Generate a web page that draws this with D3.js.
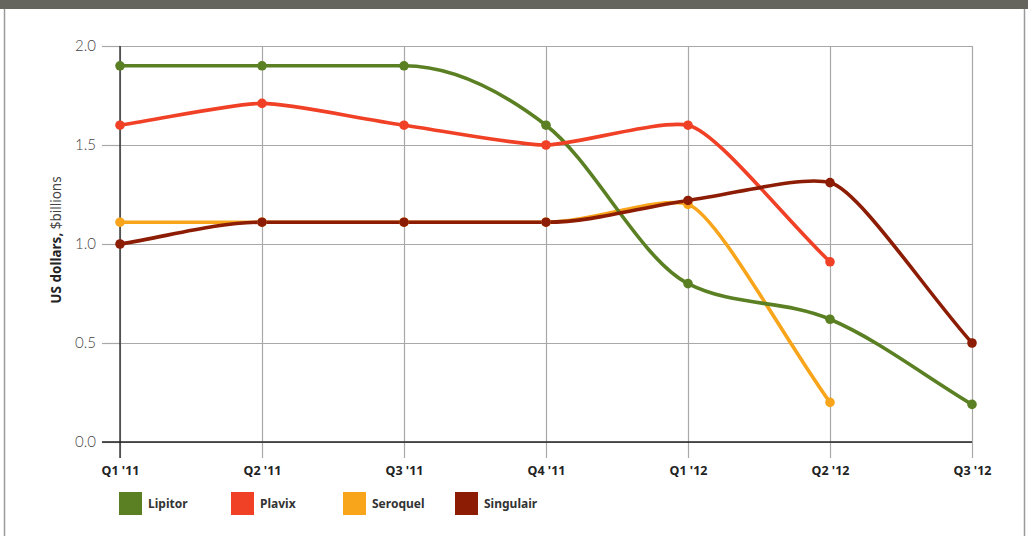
<!DOCTYPE html>
<html><head><meta charset="utf-8">
<script src="https://cdn.jsdelivr.net/npm/d3@7"></script>
<style>
html,body{margin:0;padding:0;background:#fff;}
svg{display:block;}
</style></head>
<body><svg id="c" width="1028" height="536"></svg>
<script>
const quarters = ["Q1 '11","Q2 '11","Q3 '11","Q4 '11","Q1 '12","Q2 '12","Q3 '12"];
const yTicks = [0, 0.5, 1.0, 1.5, 2.0];
const seriesNames = ["Lipitor","Plavix","Seroquel","Singulair"];
const seriesColors = ["#5a8023","#f04127","#f8a51c","#8c1c03"];
const lipitor   = [1.9, 1.9, 1.9, 1.6, 0.8, 0.62, 0.19];
const plavix    = [1.6, 1.71, 1.6, 1.5, 1.6, 0.91, null];
const seroquel  = [1.11, 1.11, 1.11, 1.11, 1.2, 0.2, null];
const singulair = [1.0, 1.11, 1.11, 1.11, 1.22, 1.31, 0.5];
const seriesValues = [lipitor, plavix, seroquel, singulair];

// Smooth cubic curve factory for d3.line (flat at plateaus, tight bends at turning points)
function SmoothCurve(context){ this._context = context; }
SmoothCurve.prototype = {
  areaStart(){ this._line = 0; }, areaEnd(){ this._line = NaN; },
  lineStart(){ this._pts = []; },
  point(x, y){ this._pts.push([+x, +y]); },
  lineEnd(){
    const p = this._pts, n = p.length, ctx = this._context;
    if (!n) return;
    ctx.moveTo(p[0][0], p[0][1]);
    if (n === 1) return;
    const s = [], h = [];
    for (let i = 0; i < n - 1; i++) { h.push(p[i+1][0] - p[i][0]); s.push((p[i+1][1] - p[i][1]) / h[i]); }
    const m = new Array(n), k = new Array(n).fill(1/3);
    m[0] = s[0]; m[n-1] = s[n-2];
    for (let i = 1; i < n - 1; i++) {
      const s0 = s[i-1], s1 = s[i], h0 = h[i-1], h1 = h[i];
      const pp = (s0*h1 + s1*h0) / (h0 + h1);
      if (Math.abs(s0) < 1e-9 || Math.abs(s1) < 1e-9) m[i] = 0;
      else if (Math.sign(s0) === Math.sign(s1)) m[i] = Math.sign(s0) * Math.min(2*Math.abs(s0), 2*Math.abs(s1), Math.abs(pp));
      else { m[i] = 0.5 * pp; k[i] = 1/5; }
    }
    for (let i = 0; i < n - 1; i++) {
      const d0 = h[i] * k[i], d1 = h[i] * k[i+1];
      ctx.bezierCurveTo(p[i][0] + d0, p[i][1] + m[i]*d0, p[i+1][0] - d1, p[i+1][1] - m[i+1]*d1, p[i+1][0], p[i+1][1]);
    }
  }
};
const curveSmooth = ctx => new SmoothCurve(ctx);

const svg = d3.select("#c");
// frame
svg.append("rect").attr("x",0).attr("y",0).attr("width",1028).attr("height",9).attr("fill","#65655d");
svg.append("line").attr("x1",4.5).attr("x2",4.5).attr("y1",9).attr("y2",536).attr("stroke","#9a9a9a").attr("stroke-width",1.5);
svg.append("line").attr("x1",1024.5).attr("x2",1024.5).attr("y1",9).attr("y2",536).attr("stroke","#9a9a9a").attr("stroke-width",1.5);

const x = d3.scalePoint().domain(quarters).range([120, 972]);
const y = d3.scaleLinear().domain([0, 2]).range([442, 46]);

const g = svg.append("g");
// horizontal grid
const yAxis = d3.axisLeft(y).tickValues(yTicks).tickFormat(d3.format(".1f")).tickSize(18);
const ya = g.append("g").attr("transform","translate(120,0)").call(yAxis);
ya.select(".domain").remove();
ya.selectAll(".tick line").attr("stroke","#a8a8a8").attr("stroke-width",1.2);
ya.selectAll(".tick").append("line").attr("x1",0).attr("x2",852).attr("stroke","#a8a8a8").attr("stroke-width",1.2);
ya.selectAll(".tick text").attr("x",-24).attr("fill","#444").style("font-family","Lato, 'Open Sans', sans-serif").style("font-weight","300").style("font-size","15px");

// vertical grid + x labels
const xAxis = d3.axisBottom(x).tickSize(16);
const xa = g.append("g").attr("transform","translate(0,442)").call(xAxis);
xa.select(".domain").remove();
xa.selectAll(".tick line").attr("stroke","#a8a8a8").attr("stroke-width",1.2);
xa.selectAll(".tick").append("line").attr("y1",0).attr("y2",-396).attr("stroke","#a8a8a8").attr("stroke-width",1.2);
xa.selectAll(".tick text").attr("y",24).attr("fill","#222").style("font-family","'Noto Sans', sans-serif").style("font-weight","700").style("font-size","12.5px");

// axes lines (black)
g.append("line").attr("x1",102).attr("x2",972).attr("y1",y(0)).attr("y2",y(0)).attr("stroke","#222").attr("stroke-width",1.3);
g.append("line").attr("x1",120).attr("x2",120).attr("y1",46).attr("y2",458).attr("stroke","#222").attr("stroke-width",1.3);

// y label
const yl = svg.append("text").attr("transform","translate(61,240) rotate(-90)").attr("text-anchor","middle")
  .style("font-family","'Noto Sans', sans-serif").style("font-size","13.5px").attr("fill","#222");
yl.append("tspan").style("font-weight","700").text("US dollars,");
yl.append("tspan").style("font-weight","400").attr("fill","#444").text(" $billions");

// lines
const line = d3.line().defined(d => d != null).x((d,i) => x(quarters[i])).y(d => y(d)).curve(curveSmooth);
const drawOrder = [2,0,1,3];
const sg = svg.append("g");
drawOrder.forEach(si => {
  const vals = seriesValues[si];
  sg.append("path").attr("d", line(vals)).attr("fill","none").attr("stroke",seriesColors[si]).attr("stroke-width",3.6).attr("stroke-linejoin","round");
});
drawOrder.forEach(si => {
  const vals = seriesValues[si];
  sg.selectAll(null).data(vals.map((v,i)=>({v,i})).filter(d=>d.v!=null)).enter().append("circle")
    .attr("cx", d => x(quarters[d.i])).attr("cy", d => y(d.v)).attr("r",4.8).attr("fill",seriesColors[si]);
});

// legend
const lg = svg.append("g");
seriesNames.forEach((n,i) => {
  const lx = 119 + i*112;
  lg.append("rect").attr("x",lx).attr("y",492).attr("width",23).attr("height",23).attr("fill",seriesColors[i]);
  lg.append("text").attr("x",lx+29).attr("y",508).text(n).attr("fill","#333")
    .style("font-family","'Noto Sans', sans-serif").style("font-weight","700").style("font-size","12px");
});
</script></body></html>
